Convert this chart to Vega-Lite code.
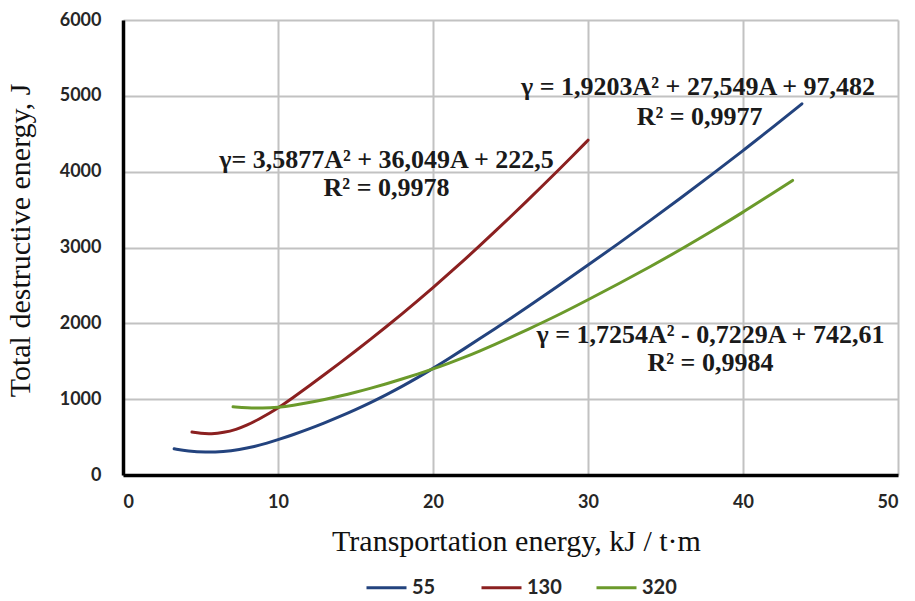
{
  "$schema": "https://vega.github.io/schema/vega-lite/v6.json",
  "width": 775,
  "height": 455,
  "autosize": "none",
  "padding": {"left": 123, "top": 20, "right": 17, "bottom": 126},
  "background": "white",
  "config": {
    "view": {"stroke": null},
    "axis": {
      "labelFont": "Lato",
      "labelFontWeight": "bold",
      "labelFontSize": 18,
      "labelColor": "#262626",
      "ticks": false,
      "domainColor": "#000000",
      "domainWidth": 3.5,
      "gridColor": "#c2c2c2",
      "gridWidth": 2,
      "titleFont": "Liberation Serif",
      "titleFontWeight": "normal",
      "titleFontSize": 30,
      "titleColor": "#111111"
    }
  },
  "datasets": {
    "curves": [
      {"series": "55", "A": 3.3, "V": 346},
      {"series": "55", "A": 4.2, "V": 314},
      {"series": "55", "A": 5.3, "V": 298},
      {"series": "55", "A": 6.5, "V": 308},
      {"series": "55", "A": 7.5, "V": 335},
      {"series": "55", "A": 8.5, "V": 375},
      {"series": "55", "A": 9.3, "V": 420},
      {"series": "55", "A": 10, "V": 465},
      {"series": "55", "A": 11, "V": 533},
      {"series": "55", "A": 12, "V": 607},
      {"series": "55", "A": 13, "V": 687},
      {"series": "55", "A": 14, "V": 772},
      {"series": "55", "A": 15, "V": 862},
      {"series": "55", "A": 16, "V": 958},
      {"series": "55", "A": 17, "V": 1060},
      {"series": "55", "A": 18, "V": 1168},
      {"series": "55", "A": 19, "V": 1283},
      {"series": "55", "A": 20, "V": 1405},
      {"series": "55", "A": 21, "V": 1533},
      {"series": "55", "A": 22, "V": 1663},
      {"series": "55", "A": 23, "V": 1795},
      {"series": "55", "A": 24, "V": 1929},
      {"series": "55", "A": 25, "V": 2065},
      {"series": "55", "A": 26, "V": 2203},
      {"series": "55", "A": 28, "V": 2483},
      {"series": "55", "A": 30, "V": 2767},
      {"series": "55", "A": 32, "V": 3057},
      {"series": "55", "A": 34, "V": 3353},
      {"series": "55", "A": 36, "V": 3655},
      {"series": "55", "A": 38, "V": 3963},
      {"series": "55", "A": 40, "V": 4277},
      {"series": "55", "A": 42, "V": 4597},
      {"series": "55", "A": 43.8, "V": 4895},
      {"series": "130", "A": 4.45, "V": 566},
      {"series": "130", "A": 5.0, "V": 548},
      {"series": "130", "A": 5.7, "V": 541},
      {"series": "130", "A": 6.5, "V": 560},
      {"series": "130", "A": 7.3, "V": 600},
      {"series": "130", "A": 8, "V": 655},
      {"series": "130", "A": 8.8, "V": 740},
      {"series": "130", "A": 9.5, "V": 820},
      {"series": "130", "A": 10, "V": 882},
      {"series": "130", "A": 11, "V": 1025},
      {"series": "130", "A": 12, "V": 1173},
      {"series": "130", "A": 13, "V": 1324},
      {"series": "130", "A": 14, "V": 1478},
      {"series": "130", "A": 15, "V": 1635},
      {"series": "130", "A": 16, "V": 1795},
      {"series": "130", "A": 17, "V": 1958},
      {"series": "130", "A": 18, "V": 2125},
      {"series": "130", "A": 19, "V": 2296},
      {"series": "130", "A": 20, "V": 2471},
      {"series": "130", "A": 21, "V": 2650},
      {"series": "130", "A": 22, "V": 2833},
      {"series": "130", "A": 23, "V": 3020},
      {"series": "130", "A": 24, "V": 3211},
      {"series": "130", "A": 25, "V": 3405},
      {"series": "130", "A": 26, "V": 3602},
      {"series": "130", "A": 27, "V": 3801},
      {"series": "130", "A": 28, "V": 4002},
      {"series": "130", "A": 29, "V": 4205},
      {"series": "130", "A": 30, "V": 4415},
      {"series": "320", "A": 7.1, "V": 899},
      {"series": "320", "A": 8, "V": 886},
      {"series": "320", "A": 9, "V": 880},
      {"series": "320", "A": 10, "V": 890},
      {"series": "320", "A": 11, "V": 918},
      {"series": "320", "A": 12, "V": 955},
      {"series": "320", "A": 13, "V": 995},
      {"series": "320", "A": 14, "V": 1040},
      {"series": "320", "A": 15, "V": 1090},
      {"series": "320", "A": 16, "V": 1145},
      {"series": "320", "A": 17, "V": 1203},
      {"series": "320", "A": 18, "V": 1265},
      {"series": "320", "A": 19, "V": 1330},
      {"series": "320", "A": 20, "V": 1398},
      {"series": "320", "A": 21, "V": 1472},
      {"series": "320", "A": 22, "V": 1550},
      {"series": "320", "A": 23, "V": 1634},
      {"series": "320", "A": 24, "V": 1722},
      {"series": "320", "A": 25, "V": 1814},
      {"series": "320", "A": 26, "V": 1908},
      {"series": "320", "A": 28, "V": 2100},
      {"series": "320", "A": 30, "V": 2310},
      {"series": "320", "A": 32, "V": 2525},
      {"series": "320", "A": 34, "V": 2745},
      {"series": "320", "A": 36, "V": 2975},
      {"series": "320", "A": 38, "V": 3215},
      {"series": "320", "A": 40, "V": 3465},
      {"series": "320", "A": 42, "V": 3725},
      {"series": "320", "A": 43.2, "V": 3885}
    ],
    "labels": [
      {"A": 17.0, "V": 4155, "text": "γ= 3,5877A² + 36,049A + 222,5"},
      {"A": 17.0, "V": 3786, "text": "R² = 0,9978"},
      {"A": 37.1, "V": 5119, "text": "γ = 1,9203A² + 27,549A + 97,482"},
      {"A": 37.2, "V": 4723, "text": "R² = 0,9977"},
      {"A": 37.9, "V": 1847, "text": "γ = 1,7254A² - 0,7229A + 742,61"},
      {"A": 37.9, "V": 1478, "text": "R² = 0,9984"}
    ]
  },
  "layer": [
    {
      "data": {"name": "curves"},
      "mark": {"type": "line", "strokeWidth": 3, "interpolate": "basis", "strokeCap": "round"},
      "encoding": {
        "x": {
          "field": "A", "type": "quantitative",
          "scale": {"domain": [0, 50], "nice": false},
          "axis": {
            "values": [0, 10, 20, 30, 40, 50],
            "format": "d",
            "title": "Transportation energy,  kJ / t·m",
            "labelPadding": 18,
            "titleX": 393,
            "titleY": 75,
            "titleBaseline": "alphabetic",
            "titleAnchor": "middle",
            "titleAlign": "center"
          }
        },
        "y": {
          "field": "V", "type": "quantitative",
          "scale": {"domain": [0, 6000], "nice": false},
          "axis": {
            "values": [0, 1000, 2000, 3000, 4000, 5000, 6000],
            "format": "d",
            "title": "Total destructive energy, J",
            "labelPadding": 22,
            "titleX": -103,
            "titleY": 220,
            "titleAngle": -90,
            "titleAlign": "center",
            "titleBaseline": "middle"
          }
        },
        "color": {
          "field": "series", "type": "nominal",
          "scale": {"domain": ["55", "130", "320"], "range": ["#23437e", "#8b2020", "#6b9a2b"]},
          "legend": {
            "title": null,
            "orient": "none",
            "legendX": 242,
            "legendY": 546,
            "direction": "horizontal",
            "gridAlign": "all",
            "symbolType": "stroke",
            "symbolSize": 1600,
            "symbolStrokeWidth": 3,
            "labelFont": "Lato",
            "labelFontWeight": "bold",
            "labelFontSize": 20,
            "labelColor": "#262626",
            "labelOffset": 4,
            "columnPadding": 28
          }
        }
      }
    },
    {
      "data": {"name": "labels"},
      "mark": {"type": "text", "font": "Liberation Serif", "fontSize": 26, "fontWeight": "bold", "color": "#1a1a1a", "align": "center", "baseline": "middle"},
      "encoding": {
        "x": {"field": "A", "type": "quantitative"},
        "y": {"field": "V", "type": "quantitative"},
        "text": {"field": "text", "type": "nominal"}
      }
    }
  ]
}
